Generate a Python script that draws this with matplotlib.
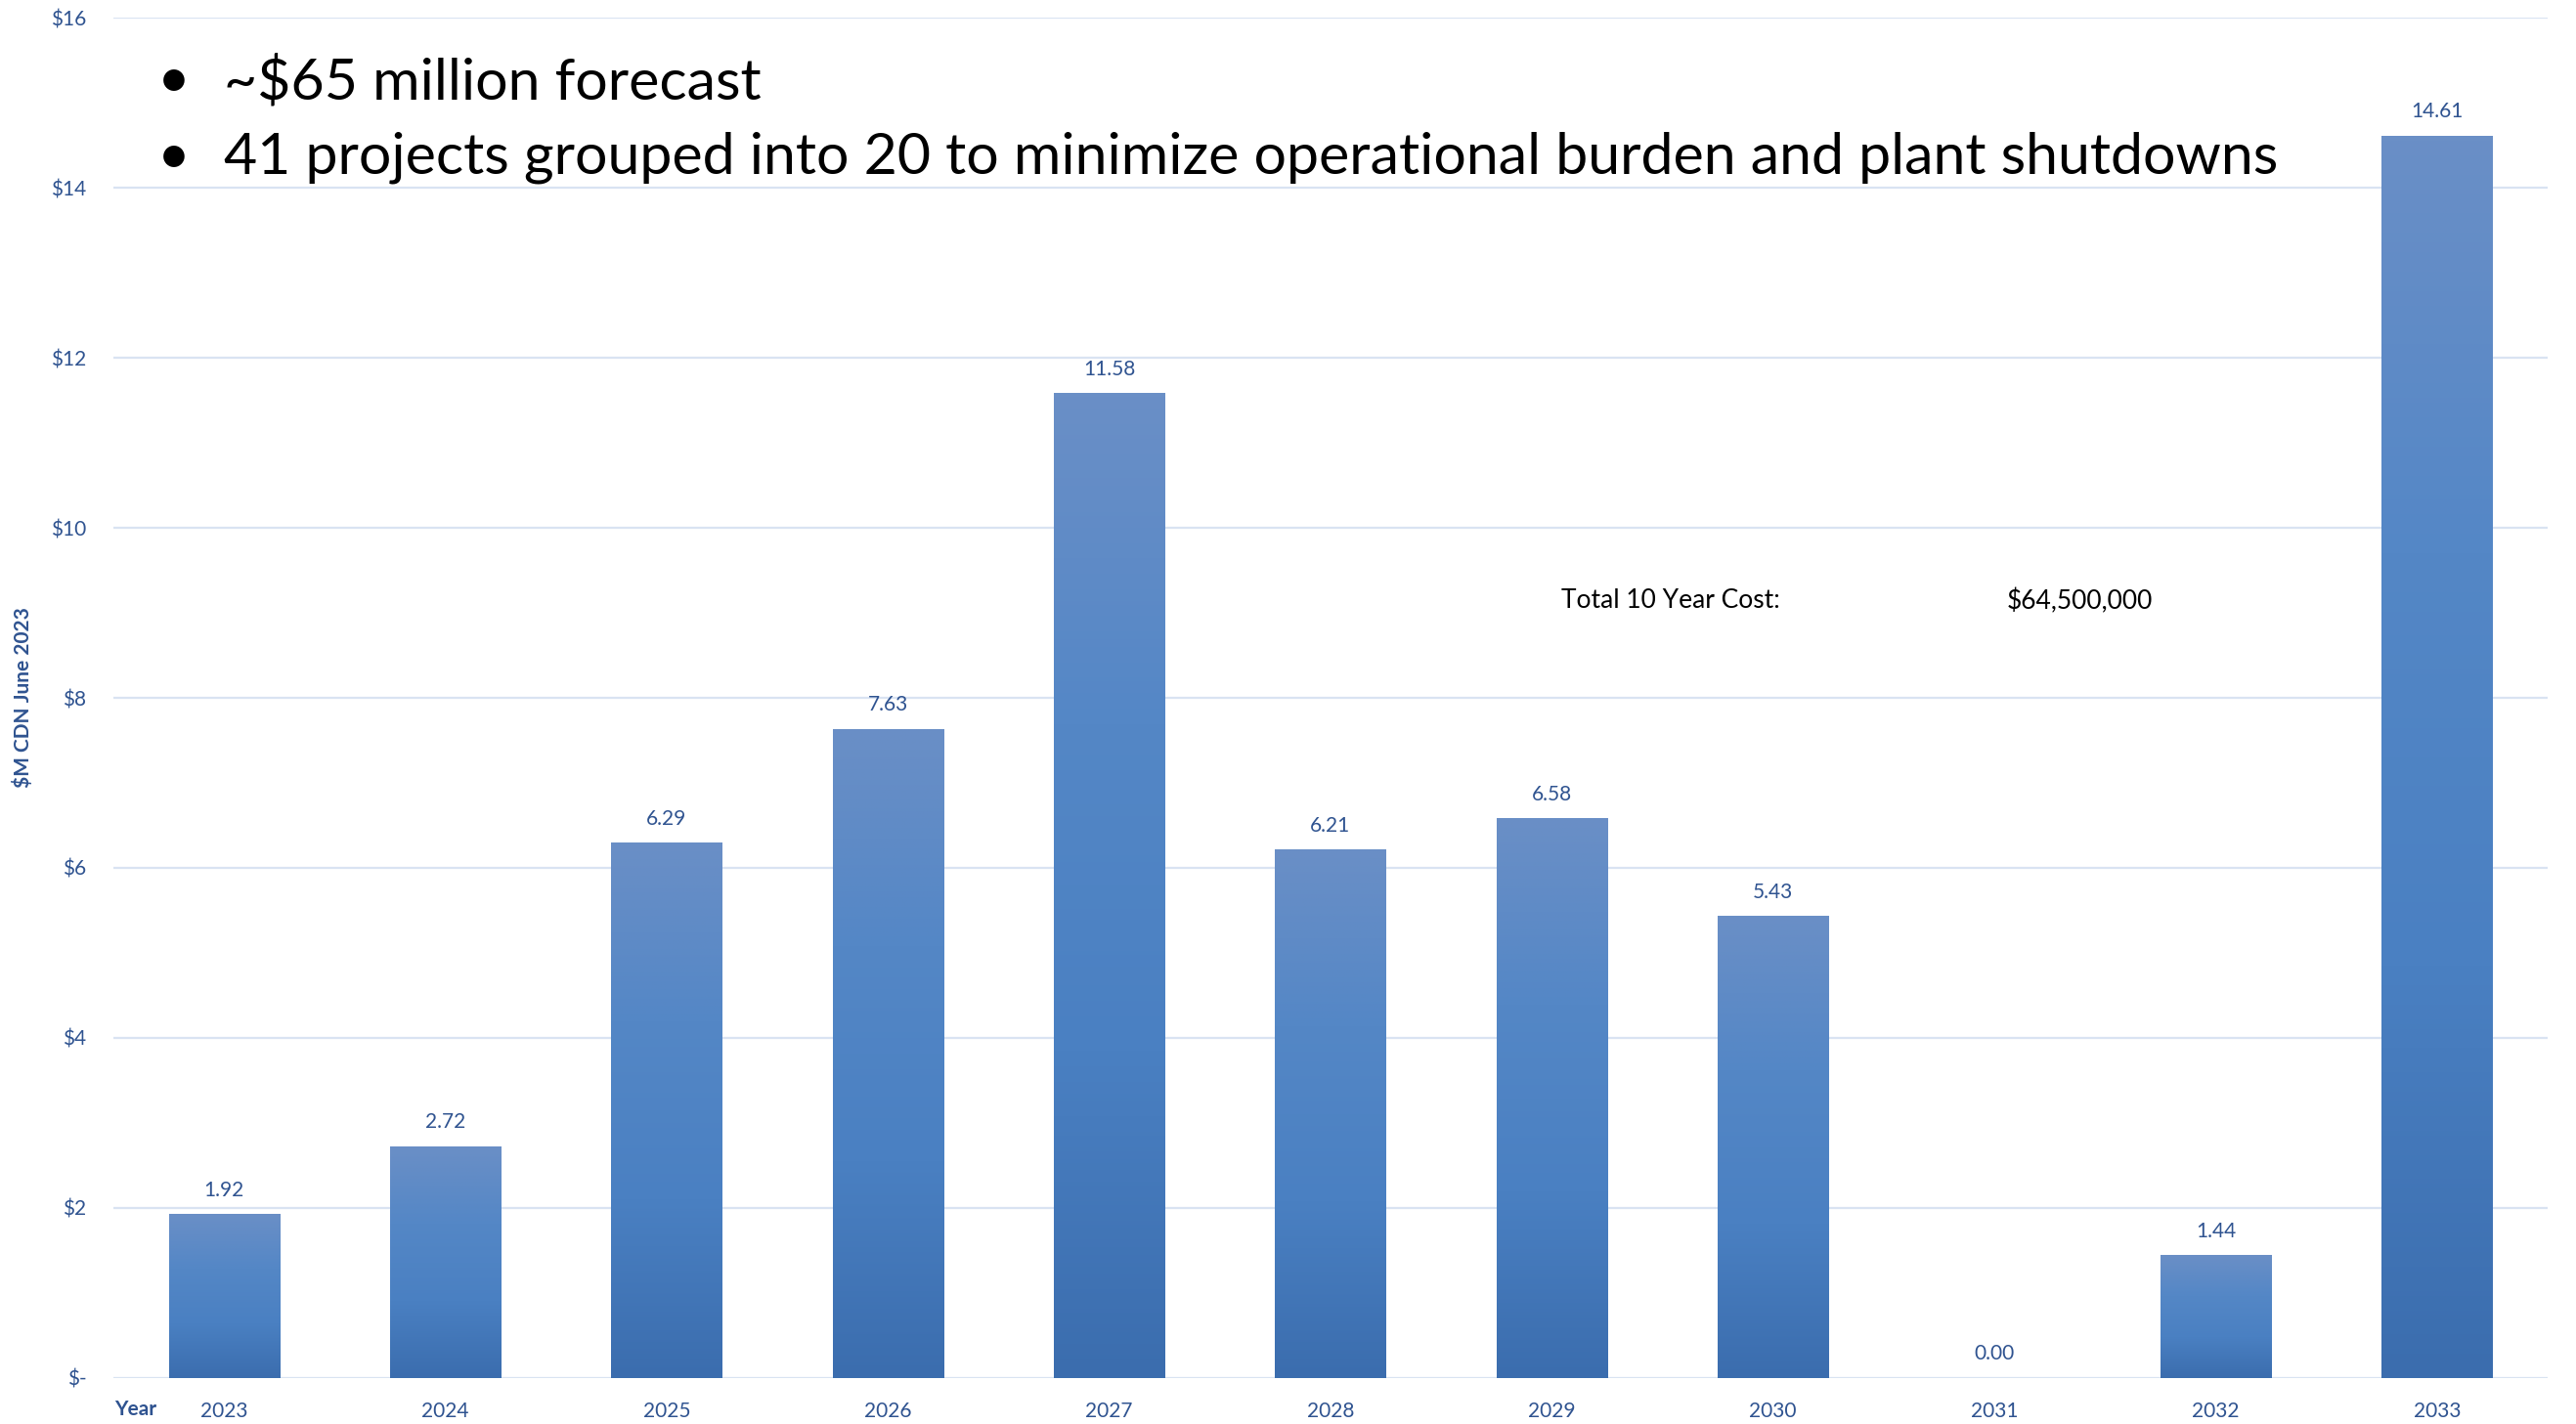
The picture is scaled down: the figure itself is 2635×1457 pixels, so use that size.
import numpy as np
import matplotlib
matplotlib.use("Agg")
import matplotlib.pyplot as plt
from matplotlib.colors import LinearSegmentedColormap

years = ["2023", "2024", "2025", "2026", "2027", "2028", "2029", "2030", "2031", "2032", "2033"]
costs = [1.92, 2.72, 6.29, 7.63, 11.58, 6.21, 6.58, 5.43, 0.00, 1.44, 14.61]
y_ticks = [0, 2, 4, 6, 8, 10, 12, 14, 16]
y_tick_labels = ["$-", "$2", "$4", "$6", "$8", "$10", "$12", "$14", "$16"]
bullets = ["~$65 million forecast",
           "41 projects grouped into 20 to minimize operational burden and plant shutdowns"]
total_label = "Total 10 Year Cost:"
total_value = "$64,500,000"

plt.rcParams['font.family'] = ['Lato', 'DejaVu Sans']
blue_text = '#2F5390'

fig = plt.figure(figsize=(26.35, 14.57), dpi=100)
ax = fig.add_axes([0.044, 0.0323, 0.945, 0.9553])

# vertical gradient for the bars: dark at the base, lighter at the top
grad_cmap = LinearSegmentedColormap.from_list(
    'bars', ['#3B6DAE', '#4A80C2', '#5487C6', '#6A8FC6'])
grad = np.linspace(0, 1, 256).reshape(-1, 1)

x = np.arange(len(years))
width = 0.5
for xi, v in zip(x, costs):
    if v > 0:
        ax.imshow(grad, cmap=grad_cmap, origin='lower', aspect='auto',
                  extent=[xi - width / 2, xi + width / 2, 0, v], zorder=2)
    ax.annotate(f"{v:.2f}", (xi, v), xytext=(0, 18), textcoords='offset points',
                ha='center', va='center', fontsize=15, color=blue_text)

ax.set_xlim(-0.5, len(years) - 0.5)
ax.set_ylim(0, 16)

ax.set_yticks(y_ticks)
ax.set_yticklabels(y_tick_labels)
ax.set_xticks(x)
ax.set_xticklabels(years)
ax.tick_params(axis='y', length=0, pad=20, labelsize=15, labelcolor=blue_text)
ax.tick_params(axis='x', length=0, pad=17, labelsize=15, labelcolor=blue_text)
for lbl in ax.get_yticklabels():
    lbl.set_horizontalalignment('right')

ax.grid(axis='y', color='#D9E3F2', linewidth=1.6, zorder=0)
ax.set_axisbelow(True)
for s in ax.spines.values():
    s.set_visible(False)

fig.text(0.0091, 0.51, "$M CDN June 2023", rotation=90, ha='center', va='center',
         fontsize=15, fontweight='bold', color=blue_text)
fig.text(0.0444, 0.0103, "Year", ha='left', va='center',
         fontsize=15, fontweight='bold', color=blue_text)

for i, line in enumerate(bullets):
    yy = 0.9425 - i * 0.0535
    fig.text(0.0675, yy, "\u2022", ha='center', va='center', fontsize=42, color='black')
    fig.text(0.0869, yy, line, ha='left', va='center', fontsize=42.5, color='black')

fig.text(0.606, 1 - 615 / 1457, total_label, ha='left', va='center', fontsize=19, color='black')
fig.text(0.779, 1 - 615 / 1457, total_value, ha='left', va='center', fontsize=19, color='black')

fig.savefig("out.png", dpi=100)
